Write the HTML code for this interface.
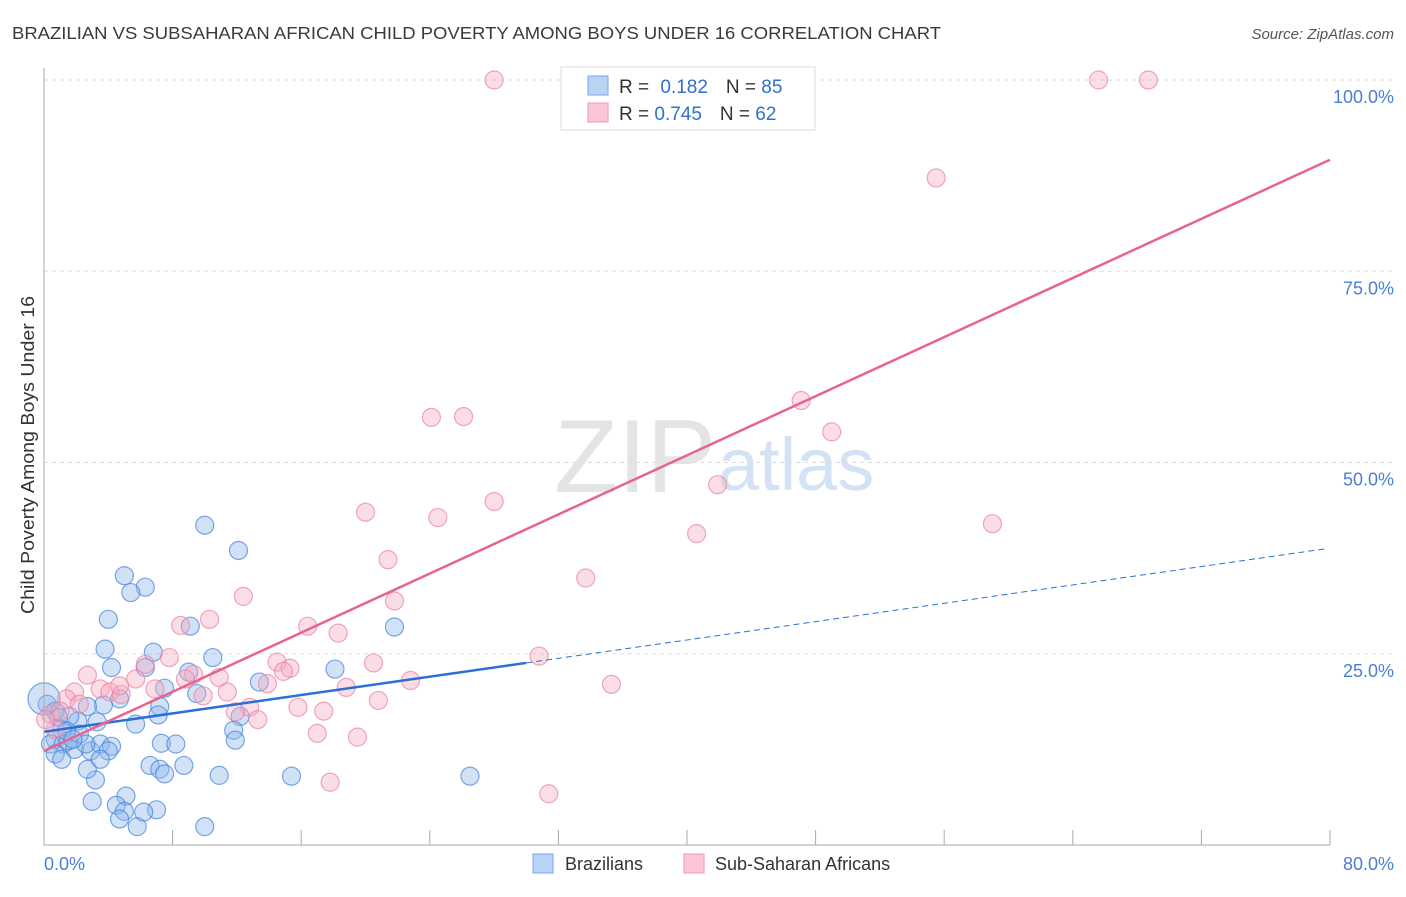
<!DOCTYPE html>
<html><head><meta charset="utf-8"><style>
body{margin:0;background:#fff;font-family:"Liberation Sans",sans-serif;}
svg text{font-family:"Liberation Sans",sans-serif;}
</style></head><body>
<svg id="chart" width="1406" height="892">
<text x="12" y="39" font-size="17.5" fill="#3a3a3a" textLength="929" lengthAdjust="spacingAndGlyphs">BRAZILIAN VS SUBSAHARAN AFRICAN CHILD POVERTY AMONG BOYS UNDER 16 CORRELATION CHART</text>
<text x="1394" y="39" font-size="15" fill="#555" font-style="italic" text-anchor="end">Source: ZipAtlas.com</text>
<text x="716" y="492" font-size="104" fill="#e4e4e4" text-anchor="end" font-family="Liberation Serif">ZIP</text>
<text x="718" y="490" font-size="74" fill="#d3e2f4">atlas</text>
<text transform="translate(34,455) rotate(-90)" font-size="18" fill="#333" text-anchor="middle" textLength="318" lengthAdjust="spacingAndGlyphs">Child Poverty Among Boys Under 16</text>
<g id="grid"></g><g id="pts"></g><g id="lines"></g>
<line x1="44" y1="68" x2="44" y2="845" stroke="#aaa"/>
<line x1="44" y1="845" x2="1330" y2="845" stroke="#aaa"/>
<text x="44" y="870" font-size="18" fill="#4a7fd4">0.0%</text>
<text x="1394" y="870" font-size="18" fill="#4a7fd4" text-anchor="end">80.0%</text>
<g>
<rect x="561" y="67" width="254" height="63" fill="#fff" stroke="#ddd"/>
<rect x="588" y="76" width="20" height="19" fill="#b9d3f5" stroke="#7aa6e6"/>
<rect x="588" y="103" width="20" height="19" fill="#fbc6d5" stroke="#ee9ab4"/>
<text x="619" y="93" font-size="19" fill="#333">R = <tspan fill="#2f6fd0" dx="6">0.182</tspan><tspan dx="18" fill="#333">N = </tspan><tspan fill="#2f6fd0">85</tspan></text>
<text x="619" y="120" font-size="19" fill="#333">R = <tspan fill="#2f6fd0">0.745</tspan><tspan dx="18" fill="#333">N = </tspan><tspan fill="#2f6fd0">62</tspan></text>
</g>
<g>
<rect x="533" y="854" width="20" height="19" fill="#b9d3f5" stroke="#7aa6e6"/>
<text x="565" y="870" font-size="18" fill="#333">Brazilians</text>
<rect x="684" y="854" width="20" height="19" fill="#fbc6d5" stroke="#ee9ab4"/>
<text x="715" y="870" font-size="18" fill="#333">Sub-Saharan Africans</text>
</g>
</svg>
<script>
const yTicks=[25,50,75,100];
const yTickLabels=["25.0%","50.0%","75.0%","100.0%"];
const xTicks=[8,16,24,32,40,48,56,64,72,80];
const blueX=[10.0,12.1,5.0,6.3,5.4,4.0,3.8,9.1,6.8,10.5,4.2,6.3,7.5,9.0,9.5,4.7,3.7,2.7,13.4,18.1,21.8,7.2,7.1,12.2,11.8,11.9,5.7,3.3,2.1,1.6,1.1,0.7,0.4,0.2,0.7,1.2,1.9,2.9,3.5,4.2,4.0,1.5,0.7,2.2,7.3,8.2,6.6,7.2,7.5,8.7,10.9,15.4,26.5,3.2,2.7,3.0,5.1,4.5,5.0,4.7,5.8,7.0,6.2,10.0,0.9,2.6,1.4,1.8,3.5,1.1,0.0];
const blueY=[41.8,38.5,35.2,33.7,33.0,29.5,25.6,28.6,25.2,24.5,23.2,23.2,20.5,22.6,19.8,19.1,18.3,18.1,21.3,23.0,28.5,18.1,17.0,16.8,15.0,13.7,15.8,16.1,16.2,16.8,15.1,13.8,13.2,18.4,17.5,13.2,12.5,12.3,13.2,12.9,12.3,13.6,11.9,14.5,13.3,13.2,10.4,9.9,9.3,10.4,9.1,9.0,9.0,8.5,9.9,5.7,6.4,5.2,4.4,3.4,2.4,4.6,4.3,2.4,16.7,13.2,14.9,13.8,11.2,11.2,19.1];
const pinkX=[28.0,65.6,68.7,55.5,47.1,49.0,24.1,26.1,41.9,28.0,20.0,24.5,59.0,40.6,21.4,33.7,12.4,21.8,10.3,8.5,16.4,18.3,30.8,7.8,6.3,14.5,15.3,20.5,14.9,9.3,10.9,2.7,5.7,13.9,22.8,35.3,18.8,3.5,1.9,4.1,4.8,11.4,9.9,20.8,15.8,12.8,11.9,17.4,13.3,1.4,0.4,1.0,17.0,19.5,17.8,31.4,0.7,2.2,0.1,4.7,6.9,8.8];
const pinkY=[100,100,100,87.2,58.1,54.0,55.9,56.0,47.1,44.9,43.5,42.8,42.0,40.7,37.3,34.9,32.5,31.9,29.5,28.7,28.6,27.7,24.7,24.5,23.6,23.9,23.1,23.8,22.7,22.3,21.9,22.2,21.7,21.1,21.5,21.0,20.6,20.4,20.0,20.0,19.7,20.0,19.5,18.9,18.0,18.0,17.4,17.5,16.4,19.1,17.1,17.5,14.6,14.1,8.2,6.7,15.1,18.4,16.4,20.8,20.4,21.7];
const blueTrend=[14.8,0.3];   // intercept, slope
const pinkTrend=[12.3,0.966];
const blueSolidEnd=30;
const NS="http://www.w3.org/2000/svg";
function sx(v){return 44+v*16.075;}
function sy(v){return 845-v*7.65;}
function mk(tag,attrs,parent){const e=document.createElementNS(NS,tag);for(const k in attrs)e.setAttribute(k,attrs[k]);parent.appendChild(e);return e;}
const grid=document.getElementById('grid'),pts=document.getElementById('pts'),lines=document.getElementById('lines'),svg=document.getElementById('chart');
yTicks.forEach((t,i)=>{
 const l=mk('line',{x1:44,x2:1394,y1:sy(t),y2:sy(t),stroke:'#ddd','stroke-dasharray':'4,4'},grid);
 
 
 const tx=mk('text',{x:1394,y:sy(t)+23,'font-size':18,fill:'#4a7fd4','text-anchor':'end'},svg);
 tx.textContent=yTickLabels[i];
 
 
});
xTicks.forEach(t=>{
 const l=mk('line',{x1:sx(t),x2:sx(t),y1:830,y2:845,stroke:'#aaa'},grid);
 
 
});
blueX.forEach((x,i)=>{
 const r=(i===blueX.length-1)?16:9;
 const c=mk('circle',{cx:sx(x),cy:sy(blueY[i]),r:r,fill:'rgba(140,182,236,0.4)',stroke:'rgba(70,130,220,0.7)','stroke-width':1.2},pts);
 
 
});
pinkX.forEach((x,i)=>{
 const c=mk('circle',{cx:sx(x),cy:sy(pinkY[i]),r:9,fill:'rgba(246,170,192,0.4)',stroke:'rgba(232,130,165,0.7)','stroke-width':1.2},pts);
 
 
});
const bs=mk('line',{x1:sx(0),y1:sy(blueTrend[0]),x2:sx(blueSolidEnd),y2:sy(blueTrend[0]+blueTrend[1]*blueSolidEnd),stroke:'#2a6fd6','stroke-width':2.5},lines);


const bd=mk('line',{x1:sx(blueSolidEnd),y1:sy(blueTrend[0]+blueTrend[1]*blueSolidEnd),x2:sx(79.8),y2:sy(blueTrend[0]+blueTrend[1]*79.8),stroke:'#2a6fd6','stroke-width':1,'stroke-dasharray':'6,4'},lines);


const pl=mk('line',{x1:sx(0),y1:sy(pinkTrend[0]),x2:sx(80),y2:sy(pinkTrend[0]+pinkTrend[1]*80),stroke:'#e8638f','stroke-width':2.5},lines);


</script>
</body></html>
